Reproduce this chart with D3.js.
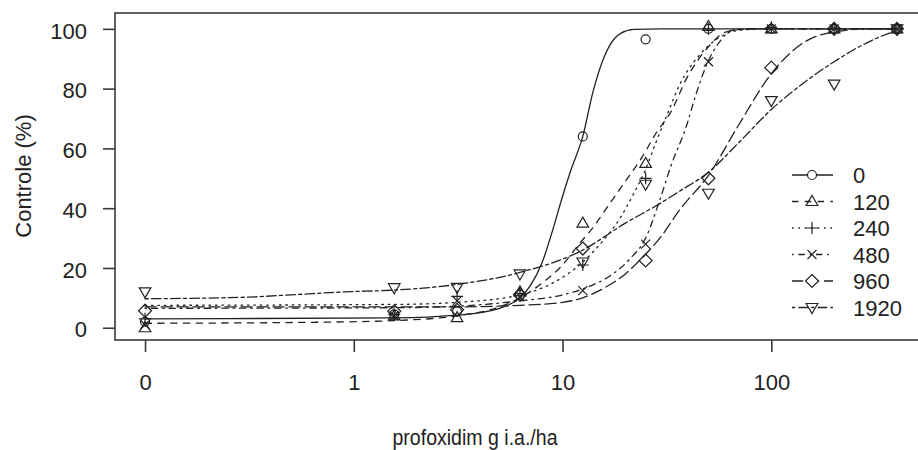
<!DOCTYPE html>
<html>
<head>
<meta charset="utf-8">
<script src="https://cdnjs.cloudflare.com/ajax/libs/d3/7.8.5/d3.min.js"></script>
<style>
body { margin: 0; background: #fff; }
text { font-family: "Liberation Sans", Arial, sans-serif; fill: #222; }
</style>
</head>
<body>
<div id="graph"></div>
<script>
var w = 918, h = 450;

// observed doses (g i.a./ha) and % control per group
var doses = [0, 1.5625, 3.125, 6.25, 12.5, 25, 50, 100, 200, 400];
var groups = ["0", "120", "240", "480", "960", "1920"];

var obs0    = [2, 4.5, 5.5, 11, 64, 96.5, 100, 100, 100, 100];
var obs120  = [0, 4, 3.4, 12, 35, 55, 100.8, 100, 100, 100];
var obs240  = [3, 4.5, 10.5, 11.5, 21, 50, 100, 100.5, 100, 100];
var obs480  = [1, 4, 9, 10.5, 12.4, 28, 89, 100, 100, 100];
var obs960  = [5.7, 5.5, 6, 11, 26.5, 22.5, 50, 87, 100, 100];
var obs1920 = [12, 13.4, 13.5, 18, 22, 48, 45, 76, 81.5, 100];

// fitted curves as [dose, %]
var fit0 = [[0.1,3],[1.5625,3.3],[3.125,4.2],[5,6.5],[6.25,10],[7,14],[8,22],[9,33],[10,44],[11,53],[12.5,64],[14,79],[15.5,89],[17,95],[19,98.5],[22,99.8],[30,100],[400,100]];
var fit120 = [[0.1,1.5],[0.6,1.8],[1.5625,2.4],[3.125,4],[5,7],[6.25,10],[8,15],[10,21],[12,28],[13.8,33],[17,42],[20,49],[24,57],[28,65],[33.5,73],[39,83],[45,90],[50,94],[61,99],[80,100],[400,100]];
var fit240 = [[0.1,7.5],[1.5625,7.8],[3.125,8.5],[6.25,11],[9,15],[12.5,22],[16,30],[19,37],[21.6,44],[25,53],[28,62],[32,72],[36.2,81],[45,91],[56,97],[70,99.5],[100,100],[400,100]];
var fit480 = [[0.1,6.5],[1.5625,6.7],[3.125,7.2],[6.25,9],[10,11],[12.5,13],[17,17.5],[21,23],[25,30],[29,42],[33,54],[39,67],[44,79],[49,88],[57,96],[65,99.5],[80,100],[400,100]];
var fit960 = [[0.1,7],[1.5625,7],[3.125,7],[6.25,7.5],[10,8.5],[12.5,10],[16,13.5],[20,18],[23,22],[30,31],[36,39],[50,51],[70,68],[100,85],[140,95],[200,99],[300,100],[400,100]];
var fit1920 = [[0.1,9.7],[0.3,10.2],[0.5,11],[0.9,12],[1.5625,12.6],[3.125,14.5],[6.25,18.5],[12.5,26],[20,35],[30,42],[36,45.5],[50,52],[70,62],[100,73],[150,83],[200,89],[300,96],[400,99.5]];

var xTicks = [0, 1, 10, 100];
var yTicks = [0, 20, 40, 60, 80, 100];

var obs = [obs0, obs120, obs240, obs480, obs960, obs1920];
var fits = [fit0, fit120, fit240, fit480, fit960, fit1920];
var dashes = ["none", "6.4,6.4", "1.6,4.8", "1.6,4.8,6.4,4.8", "11.2,4.8", "3.2,3.2,9.6,3.2"];
var shapes = ["circle", "triangle", "plus", "cross", "diamond", "triangleDown"];

// dose 0 sits on the broken axis at 0.1
function dx(d) { return d == 0 ? 0.1 : d; }

var svg = d3.select("#graph")
	.append("svg")
	.attr("width", w)
	.attr("height", h);

var x = d3.scaleLog()
	.domain([0.0718, 557])
	.range([115, 927]);

var y = d3.scaleLinear()
	.domain([-4.1, 105.3])
	.range([340, 13]);

var yAxis = svg.append("g")
	.attr("transform", "translate(115,0)")
	.call(d3.axisLeft(y).tickValues(yTicks).tickSize(12).tickPadding(16));

var xAxis = svg.append("g")
	.attr("transform", "translate(0,340)")
	.call(d3.axisBottom(x).tickValues(xTicks.map(dx)).tickSize(12).tickPadding(22)
		.tickFormat(function(d) { return d == 0.1 ? "0" : d; }));

svg.selectAll(".domain").remove();
svg.selectAll(".tick line").attr("stroke", "#3a3a3a").attr("stroke-width", 1.6);
svg.selectAll(".tick text").attr("font-size", 22).attr("fill", "#222");
yAxis.selectAll(".tick text").attr("dy", "0.42em");

svg.append("rect")
	.attr("x", 115)
	.attr("y", 13)
	.attr("width", 812)
	.attr("height", 327)
	.attr("fill", "none")
	.attr("stroke", "#3a3a3a")
	.attr("stroke-width", 1.6);

function symbol(type) {
	switch (type) {
		case "circle": return "M4.5,0A4.5,4.5 0 1,1 -4.5,0A4.5,4.5 0 1,1 4.5,0Z";
		case "triangle": return "M0,-6L5.8,4L-5.8,4Z";
		case "triangleDown": return "M0,6L5.8,-4L-5.8,-4Z";
		case "plus": return "M-6,0L6,0M0,-6L0,6";
		case "cross": return "M-4.5,-4.5L4.5,4.5M-4.5,4.5L4.5,-4.5";
		case "diamond": return "M0,-6.5L6.5,0L0,6.5L-6.5,0Z";
	}
}

var line = d3.line()
	.x(function(d) { return x(dx(d[0])); })
	.y(function(d) { return y(d[1]); })
	.curve(d3.curveMonotoneX);

var plot = svg.append("g");

fits.forEach(function(f, i) {
	plot.append("path")
		.datum(f)
		.attr("d", line)
		.attr("fill", "none")
		.attr("stroke", "#222")
		.attr("stroke-width", 1.3)
		.attr("stroke-linecap", "round")
		.attr("stroke-dasharray", dashes[i]);
});

obs.forEach(function(o, i) {
	plot.selectAll(".p" + i)
		.data(o)
		.enter()
		.append("path")
		.attr("class", "p" + i)
		.attr("d", symbol(shapes[i]))
		.attr("transform", function(v, j) { return "translate(" + x(dx(doses[j])) + "," + y(v) + ")"; })
		.attr("fill", "none")
		.attr("stroke", "#222")
		.attr("stroke-width", 1.2);
});

// legend
var legend = svg.append("g");
groups.forEach(function(g, i) {
	var ly = 175 + i * 26.5;
	legend.append("line")
		.attr("x1", 792).attr("x2", 833)
		.attr("y1", ly).attr("y2", ly)
		.attr("stroke", "#222")
		.attr("stroke-width", 1.3)
		.attr("stroke-dasharray", dashes[i]);
	legend.append("path")
		.attr("d", symbol(shapes[i]))
		.attr("transform", "translate(812," + ly + ")")
		.attr("fill", i == 0 || i == 4 ? "#fff" : "none")
		.attr("stroke", "#222")
		.attr("stroke-width", 1.2);
	legend.append("text")
		.text(g)
		.attr("x", 853)
		.attr("y", ly + 8)
		.attr("font-size", 22);
});

svg.append("text")
	.text("Controle (%)")
	.attr("transform", "translate(31,176) rotate(-90)")
	.attr("text-anchor", "middle")
	.attr("font-size", 22);

svg.append("text")
	.text("profoxidim g i.a./ha")
	.attr("x", 475)
	.attr("y", 445)
	.attr("text-anchor", "middle")
	.attr("font-size", 22)
	.attr("textLength", 165)
	.attr("lengthAdjust", "spacingAndGlyphs");
</script>
</body>
</html>
